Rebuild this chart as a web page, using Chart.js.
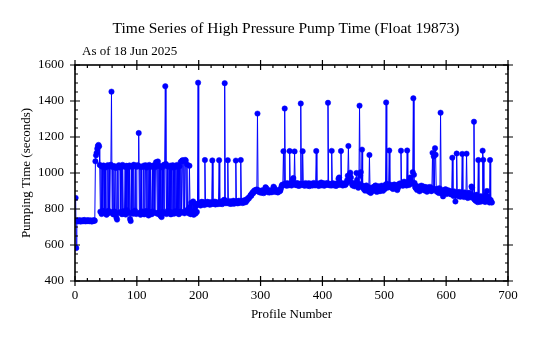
<!DOCTYPE html>
<html>
<head>
<meta charset="utf-8">
<title>High Pressure Pump Time</title>
<script src="https://cdn.jsdelivr.net/npm/chart.js@4.4.1/dist/chart.umd.min.js"></script>
<style>
  html, body { margin: 0; padding: 0; background: #fff; }
  #pump { display: block; }
</style>
</head>
<body>
<canvas id="pump" width="534" height="338"></canvas>
<script>
// Pump time per profile, profiles 1..674 (ten per row)
const firstProfile = 1;
const pumpTime = [
  862, 583, 733, 736, 731, 734, 738, 735, 730, 733,      // 1
  737, 734, 732, 736, 739, 735, 731, 734, 736, 733,      // 11
  738, 735, 732, 734, 737, 735, 730, 733, 736, 734,      // 21
  738, 735, 1065, 1098, 1112, 1135, 1150, 1156, 1148, 1045, // 31
  785, 1040, 772, 1035, 790, 1042, 1038, 776, 1030, 781, // 41
  768, 775, 1044, 790, 1036, 779, 1041, 1046, 1452, 783, // 51
  1033, 770, 1039, 786, 776, 1028, 752, 741, 1037, 778,  // 61
  1043, 1035, 1030, 784, 1039, 771, 1045, 788, 775, 781, // 71
  1034, 769, 1040, 793, 1036, 1031, 777, 1042, 745, 733, // 81
  1038, 780, 1033, 774, 1046, 785, 791, 1039, 772, 1035, // 91
  1044, 1040, 1222, 779, 1037, 768, 1032, 787, 776, 782, // 101
  1041, 770, 1036, 1043, 789, 1030, 777, 1038, 764, 1045, // 111
  783, 1034, 775, 771, 1039, 786, 1042, 1037, 779, 1033, // 121
  1060, 1058, 774, 1064, 781, 1040, 768, 1036, 760, 755, // 131
  1031, 783, 1044, 776, 1047, 1482, 1050, 772, 1038, 790, // 141
  779, 1035, 785, 1041, 770, 1036, 781, 1043, 1030, 774, // 151
  1039, 788, 1034, 777, 1045, 783, 1040, 771, 1037, 786, // 161
  1062, 780, 1068, 1071, 784, 1066, 776, 1073, 1070, 790, // 171
  1048, 782, 800, 776, 1040, 812, 771, 835, 779, 782,    // 181
  842, 768, 790, 830, 775, 818, 784, 826, 1502, 832,     // 191
  828, 836, 819, 833, 840, 826, 831, 838, 822, 1072,     // 201
  830, 835, 826, 840, 829, 833, 837, 824, 831, 838,      // 211
  827, 1070, 834, 829, 836, 841, 825, 832, 838, 830,     // 221
  827, 835, 1071, 836, 829, 842, 833, 827, 838, 845,     // 231
  851, 1499, 848, 832, 840, 836, 1071, 839, 830, 844,    // 241
  835, 828, 841, 837, 833, 846, 829, 838, 842, 1069,     // 251
  835, 843, 831, 839, 846, 834, 840, 1072, 838, 845,     // 261
  833, 841, 836, 849, 842, 838, 852, 847, 856, 861,      // 271
  858, 866, 870, 878, 874, 885, 892, 888, 897, 903,      // 281
  899, 906, 901, 908, 1330, 905, 898, 893, 901, 896,     // 291
  890, 899, 904, 895, 888, 897, 902, 921, 917, 900,      // 301
  894, 899, 903, 891, 896, 905, 899, 893, 902, 897,      // 311
  924, 919, 901, 895, 899, 904, 896, 892, 900, 906,      // 321
  898, 903, 915, 928, 935, 932, 1121, 938, 1358, 941,    // 331
  935, 929, 944, 937, 931, 940, 1122, 936, 943, 930,     // 341
  938, 965, 972, 941, 1120, 934, 939, 945, 931, 937,     // 351
  942, 928, 936, 940, 1386, 933, 938, 1121, 935, 941,    // 361
  929, 937, 944, 932, 938, 930, 936, 943, 927, 939,      // 371
  934, 941, 936, 930, 938, 945, 933, 937, 931, 1122,     // 381
  939, 934, 942, 928, 936, 940, 933, 947, 931, 938,      // 391
  935, 943, 929, 937, 941, 934, 939, 945, 1390, 935,     // 401
  932, 940, 936, 930, 1123, 938, 943, 931, 937, 934,     // 411
  940, 928, 936, 942, 933, 968, 975, 939, 935, 1122,     // 421
  937, 944, 930, 938, 935, 941, 933, 939, 946, 960,      // 431
  985, 1150, 958, 990, 1002, 975, 948, 936, 930, 941,    // 441
  934, 926, 939, 945, 1000, 962, 930, 918, 940, 1374,    // 451
  985, 1005, 932, 1130, 921, 928, 910, 917, 902, 925,    // 461
  931, 908, 915, 922, 896, 1100, 905, 889, 912, 919,     // 471
  898, 907, 923, 915, 928, 931, 903, 895, 912, 920,      // 481
  926, 909, 899, 917, 925, 930, 913, 901, 918, 924,      // 491
  911, 935, 1392, 940, 926, 919, 931, 1125, 928, 935,    // 501
  922, 918, 930, 911, 925, 936, 920, 914, 929, 933,      // 511
  905, 917, 926, 938, 942, 931, 1124, 936, 944, 929,     // 521
  938, 952, 941, 935, 947, 930, 1125, 938, 945, 933,     // 531
  962, 975, 968, 951, 940, 1005, 1415, 990, 945, 921,    // 541
  915, 928, 906, 917, 924, 911, 898, 915, 926, 930,      // 551
  908, 919, 925, 912, 903, 918, 922, 909, 896, 913,      // 561
  920, 905, 916, 923, 910, 899, 914, 1112, 905, 1092,    // 571
  912, 1138, 1101, 908, 896, 912, 903, 889, 915, 900,    // 581
  1335, 898, 885, 906, 870, 893, 901, 888, 910, 895,     // 591
  883, 899, 904, 892, 887, 900, 896, 881, 894, 1085,     // 601
  890, 872, 898, 885, 842, 876, 1108, 880, 893, 871,     // 611
  887, 895, 868, 884, 890, 1106, 877, 889, 866, 892,     // 621
  883, 870, 1107, 886, 861, 879, 890, 872, 865, 884,     // 631
  925, 918, 874, 860, 1285, 852, 868, 845, 879, 850,     // 641
  838, 1072, 846, 862, 840, 871, 855, 843, 1124, 1073,   // 651
  848, 866, 839, 880, 852, 900, 870, 845, 858, 836,      // 661
  1072, 850, 838, 836                                    // 671
];

const xRange = [0, 700];
const yRange = [400, 1600];
const xMajor = 100, xMinor = 20;
const yMajor = 200, yMinor = 50;

const titleText = 'Time Series of High Pressure Pump Time (Float 19873)';
const subtitleText = 'As of 18 Jun 2025';
const xTitle = 'Profile Number';
const yTitle = 'Pumping Time (seconds)';

const BLUE = '#0000ff';
const SERIF = '"Liberation Serif", "Times New Roman", serif';

const points = pumpTime.map((v, i) => ({ x: firstProfile + i, y: v }));

// box around the plot, major ticks crossing the frame, minor ticks inside
const framePlugin = {
  id: 'frame',
  afterDraw(chart) {
    const { ctx, chartArea: a, scales } = chart;
    const xs = scales.x, ys = scales.y;
    ctx.save();
    ctx.strokeStyle = '#000';
    ctx.lineWidth = 1.6;
    ctx.strokeRect(a.left, a.top, a.right - a.left, a.bottom - a.top);

    ctx.lineWidth = 1.2;
    ctx.beginPath();
    for (let v = xRange[0]; v <= xRange[1]; v += xMinor) {
      const px = xs.getPixelForValue(v);
      const major = v % xMajor === 0;
      const inw = major ? 5 : 3, out = major ? 5 : 0;
      ctx.moveTo(px, a.bottom + out); ctx.lineTo(px, a.bottom - inw);
      ctx.moveTo(px, a.top - out); ctx.lineTo(px, a.top + inw);
    }
    for (let v = yRange[0]; v <= yRange[1]; v += yMinor) {
      const py = ys.getPixelForValue(v);
      const major = v % yMajor === 0;
      const inw = major ? 5 : 3, out = major ? 5 : 0;
      ctx.moveTo(a.left - out, py); ctx.lineTo(a.left + inw, py);
      ctx.moveTo(a.right + out, py); ctx.lineTo(a.right - inw, py);
    }
    ctx.stroke();

    // heading lines
    ctx.fillStyle = '#000';
    ctx.textBaseline = 'alphabetic';
    ctx.font = '15.5px ' + SERIF;
    ctx.textAlign = 'center';
    ctx.fillText(titleText, 286, 33);
    ctx.font = '13px ' + SERIF;
    ctx.textAlign = 'left';
    ctx.fillText(subtitleText, 82, 55);
    ctx.restore();
  }
};

const plain = v => String(v);

new Chart(document.getElementById('pump'), {
  type: 'line',
  data: {
    datasets: [{
      data: points,
      borderColor: BLUE,
      backgroundColor: BLUE,
      borderWidth: 1,
      pointRadius: 2.7,
      pointBorderWidth: 0.5,
      pointHoverRadius: 2.7,
      tension: 0
    }]
  },
  options: {
    responsive: false,
    animation: false,
    events: [],
    layout: { padding: { left: 15, right: 26, top: 65, bottom: 12 } },
    plugins: { legend: { display: false }, tooltip: { enabled: false } },
    scales: {
      x: {
        type: 'linear',
        min: xRange[0], max: xRange[1],
        grid: { display: false, drawTicks: false },
        border: { display: false },
        ticks: { stepSize: xMajor, padding: 7, color: '#000', callback: plain, font: { family: SERIF, size: 13 } },
        title: { display: true, text: xTitle, color: '#000', font: { family: SERIF, size: 13 } },
        afterFit(s) { s.height = 45; }
      },
      y: {
        min: yRange[0], max: yRange[1],
        grid: { display: false, drawTicks: false },
        border: { display: false },
        ticks: { stepSize: yMajor, padding: 11, color: '#000', callback: plain, font: { family: SERIF, size: 13 } },
        title: { display: true, text: yTitle, color: '#000', font: { family: SERIF, size: 13 } },
        afterFit(s) { s.width = 60; }
      }
    }
  },
  plugins: [framePlugin]
});
</script>
</body>
</html>
